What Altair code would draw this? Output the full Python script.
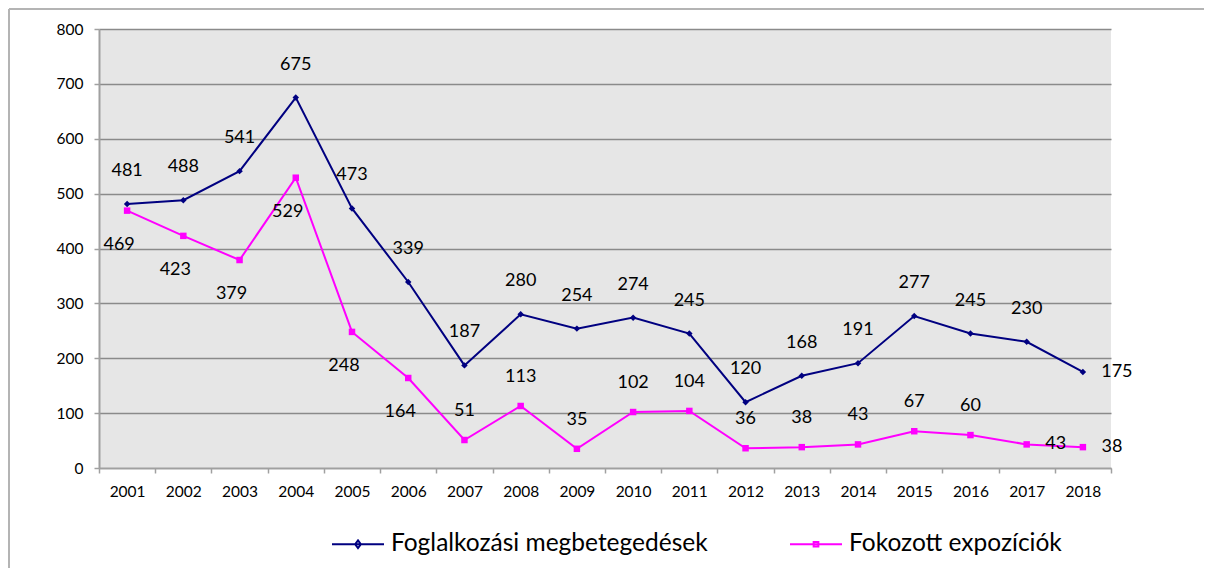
import altair as alt
import pandas as pd

# ---- data ----
years = [str(y) for y in range(2001, 2019)]
series_names = ["Foglalkozási megbetegedések", "Fokozott expozíciók"]
foglalkozasi = [481, 488, 541, 675, 473, 339, 187, 280, 254, 274, 245, 120, 168, 191, 277, 245, 230, 175]
fokozott = [469, 423, 379, 529, 248, 164, 51, 113, 35, 102, 104, 36, 38, 43, 67, 60, 43, 38]
# data-label placement setting per point (like Excel's label position)
place_1 = ["above"] * 17 + ["right"]
place_2 = ["below"] * 6 + ["above"] * 10 + ["right"] * 2

rows = []
for i, yr in enumerate(years):
    rows.append({"year": yr, "series": series_names[0], "value": foglalkozasi[i], "place": place_1[i]})
    rows.append({"year": yr, "series": series_names[1], "value": fokozott[i], "place": place_2[i]})
df = pd.DataFrame(rows)

NAVY = "#000080"
PINK = "#FF00FF"
COLORS = [NAVY, PINK]
MARKERS = ["diamond", "square"]
FONT = "Lato"
W, H = 1012, 439
PAD = {"left": 91, "top": 21, "right": 93, "bottom": 100}

xenc = alt.X(
    "year:O",
    scale=alt.Scale(type="band", paddingInner=0, paddingOuter=0),
    axis=alt.Axis(
        title=None, labelAngle=0, tickBand="extent", grid=False,
        labelFont=FONT, labelFontSize=15.5, labelColor="#000000", labelPadding=11,
        tickSize=5, tickColor="#a0a0a0", tickWidth=1.5,
        domainColor="#a0a0a0", domainWidth=1.5,
    ),
)
yenc = alt.Y(
    "value:Q",
    scale=alt.Scale(domain=[0, 800], nice=False),
    axis=alt.Axis(
        title=None, values=list(range(0, 801, 100)), grid=True,
        gridColor="#8a8a8a", gridWidth=1.3,
        labelFont=FONT, labelFontSize=15.5, labelColor="#000000", labelPadding=11,
        tickSize=5, tickColor="#a0a0a0", tickWidth=1.5,
        domainColor="#a0a0a0", domainWidth=2,
    ),
)

base = alt.Chart(df)

series_layers = []
for s, c, m in zip(series_names, COLORS, MARKERS):
    sub = base.transform_filter(alt.datum.series == s)
    series_layers.append(sub.mark_line(strokeWidth=2, color=c).encode(x=xenc, y=yenc))
    series_layers.append(
        sub.mark_point(filled=True, opacity=1, size=42, shape=m, color=c).encode(x=xenc, y=yenc)
    )

offsets = {
    (series_names[0], "above"): (0, -33),
    (series_names[0], "right"): (34, 0),
    (series_names[1], "below"): (-8, 34),
    (series_names[1], "above"): (0, -29),
    (series_names[1], "right"): (29, 0),
}
label_layers = []
for (s, p), (dx, dy) in offsets.items():
    label_layers.append(
        base.transform_filter(
            (alt.datum.series == s) & (alt.datum.place == p)
        ).mark_text(font=FONT, fontSize=18, color="#000000", dx=dx, dy=dy, baseline="middle", align="center")
        .encode(x=xenc, y=yenc, text=alt.Text("value:Q"))
    )

# legend: line + marker symbols (custom paths), from a layer with no rows
path1 = "M-1,0H1M0,-0.15L0.11,0L0,0.15L-0.11,0Z"
path2 = "M-1,0H1M-0.09,-0.09H0.09V0.09H-0.09Z"


def mk_legend():
    return alt.Legend(
        title=None, orient="none", legendX=232, legendY=488, direction="horizontal",
        symbolSize=2704, symbolStrokeWidth=2, symbolOpacity=1,
        labelFont=FONT, labelFontSize=24.5, labelColor="#000000",
        labelOffset=6, columnPadding=78, padding=0, labelLimit=0,
    )


legend_layer = base.transform_filter("false").mark_point(filled=False, opacity=1, strokeWidth=2).encode(
    x=xenc, y=yenc,
    color=alt.Color("series:N", scale=alt.Scale(domain=series_names, range=COLORS), legend=mk_legend()),
    shape=alt.Shape("series:N", scale=alt.Scale(domain=series_names, range=[path1, path2]), legend=mk_legend()),
)

# outer frame of the chart (top and left edges visible)
frame_df = pd.DataFrame({"k": [0]})
frame_top = alt.Chart(frame_df).mark_rule(color="#b4b4b4", strokeWidth=2).encode(
    x=alt.value(-PAD["left"] + 1), x2=alt.value(W + PAD["right"]), y=alt.value(-PAD["top"] + 1)
)
frame_left = alt.Chart(frame_df).mark_rule(color="#b4b4b4", strokeWidth=2).encode(
    x=alt.value(-PAD["left"] + 1), y=alt.value(-PAD["top"] + 1), y2=alt.value(H + PAD["bottom"])
)

chart = alt.layer(*series_layers, *label_layers, legend_layer, frame_top, frame_left).properties(
    width=W, height=H,
    autosize=alt.AutoSizeParams(type="none"),
    padding=PAD,
    background="#ffffff",
).configure_view(fill="#e6e6e6", stroke=None)

chart.save("out.html", embed_options={"renderer": "svg", "actions": False})
